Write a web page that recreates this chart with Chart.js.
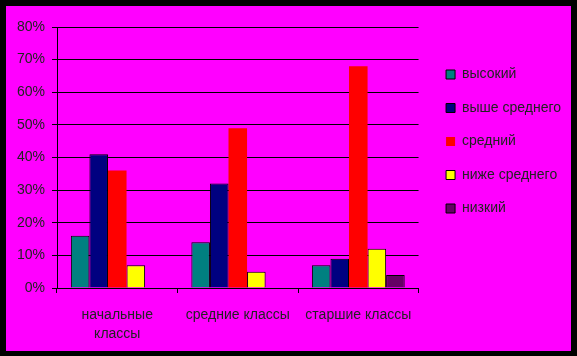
<!DOCTYPE html>
<html><head><meta charset="utf-8">
<script src="https://cdn.jsdelivr.net/npm/chart.js@4/dist/chart.umd.min.js"></script>
<style>
html,body{margin:0;padding:0;background:#000;width:577px;height:356px;overflow:hidden}
#wrap{position:absolute;left:6px;top:6px;width:565px;height:345px;background:#FF00FF}
</style></head>
<body><div id="wrap"><canvas id="c" width="565" height="345"></canvas></div>
<script>
const categories = [["начальные", "классы"], "средние классы", "старшие классы"];
const seriesNames = ["высокий", "выше среднего", "средний", "ниже среднего", "низкий"];
const vysokiy = [16, 14, 7];
const vysheSrednego = [41, 32, 9];
const sredniy = [36, 49, 68];
const nizheSrednego = [7, 5, 12];
const nizkiy = [null, null, 4];
const yTicks = [0, 10, 20, 30, 40, 50, 60, 70, 80];

const fills = ["#008080", "#000080", "#FF0000", "#FFFF00", "#660066"];
const borders = [1, 1, 0, 1, 1];
const seriesData = [vysokiy, vysheSrednego, sredniy, nizheSrednego, nizkiy];

const txt = "#222";
const font = {family: "'Liberation Sans', Arial, sans-serif", size: 14, lineHeight: 1.4};

new Chart(document.getElementById("c"), {
  type: "bar",
  data: {
    labels: categories,
    datasets: seriesNames.map((n, i) => ({
      label: n,
      data: seriesData[i],
      backgroundColor: fills[i],
      borderColor: "#000",
      borderWidth: borders[i],
      categoryPercentage: 0.77,
      barPercentage: 1
    }))
  },
  options: {
    responsive: false,
    animation: false,
    devicePixelRatio: 1,
    layout: {padding: {left: 11, top: 21, right: 0, bottom: 9}},
    plugins: {
      tooltip: {enabled: false},
      legend: {
        position: "right",
        align: "start",
        fullSize: false,
        maxWidth: 145,
        title: {display: true, text: " ", font: {size: 10, lineHeight: "21px"}},
        labels: {boxWidth: 9, boxHeight: 9, padding: 19.5, color: txt, font: font}
      }
    },
    scales: {
      x: {
        grid: {display: true, drawOnChartArea: false, drawTicks: true, tickLength: 5, color: "#000", offset: true},
        border: {color: "#000", width: 1},
        ticks: {color: txt, font: font, padding: 12, maxRotation: 0, autoSkip: false},
        afterFit: (s) => { s.height = 54; }
      },
      y: {
        min: 0, max: 80,
        afterBuildTicks: (s) => { s.ticks = yTicks.map(v => ({value: v})); },
        grid: {color: "#000", lineWidth: 1, tickLength: 5},
        border: {color: "#000", width: 1},
        ticks: {color: txt, font: font, padding: 7, callback: (v) => v + "%"},
        afterFit: (s) => { s.width = 40; }
      },
      y2: {
        position: "right",
        display: true,
        grid: {display: false},
        border: {display: false},
        ticks: {display: false},
        afterFit: (s) => { s.width = 8; }
      }
    }
  }
});
</script>
</body></html>
